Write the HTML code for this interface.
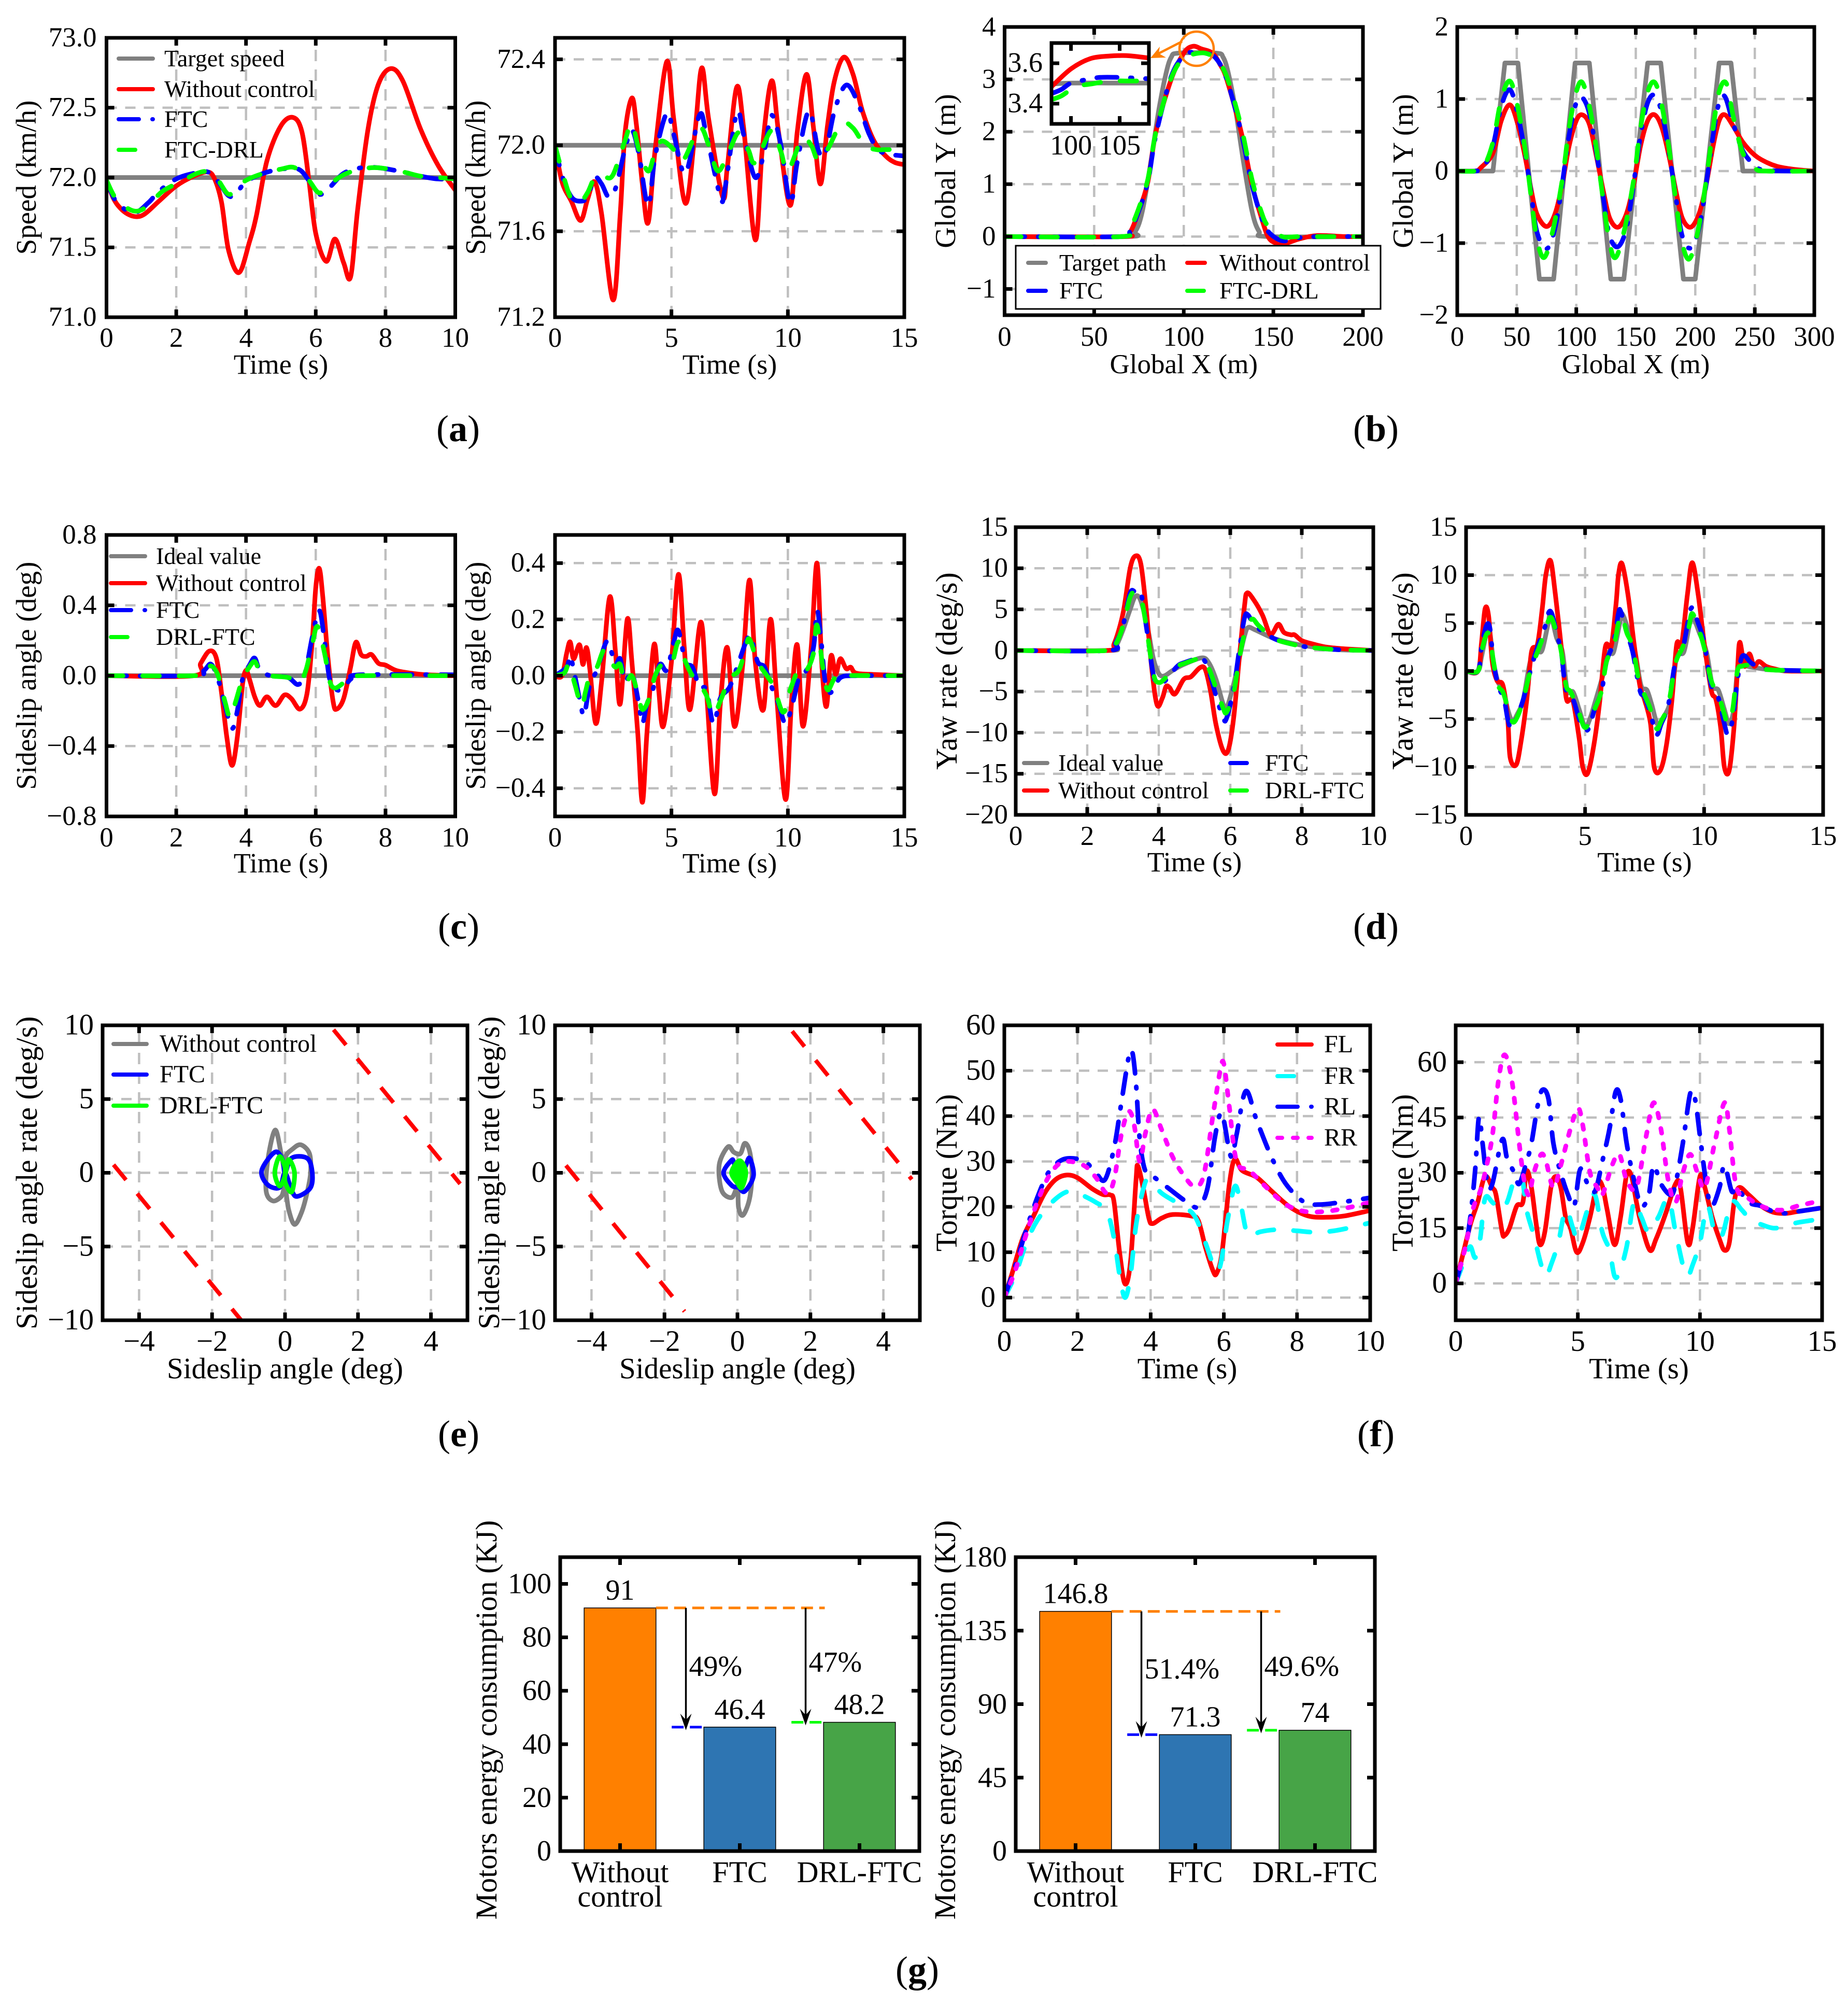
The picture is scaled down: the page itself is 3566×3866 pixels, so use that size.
<!DOCTYPE html>
<html lang="en">
<head>
<meta charset="utf-8">
<title>Vehicle control comparison charts</title>
<style>
html,body{margin:0;padding:0;background:#fff;}
svg{display:block;}
text{font-family:"Liberation Serif","Noto Serif CJK SC",serif;fill:#000;}
</style>
</head>
<body>
<svg id="figure" xmlns="http://www.w3.org/2000/svg" width="3566" height="3866" viewBox="0 0 3566 3866">
<rect x="0" y="0" width="3566" height="3866" fill="#fff"/>
<text x="884" y="851" text-anchor="middle" font-size="72">(<tspan font-weight="bold">a</tspan>)</text>
<text x="2655" y="851" text-anchor="middle" font-size="72">(<tspan font-weight="bold">b</tspan>)</text>
<text x="885" y="1811" text-anchor="middle" font-size="72">(<tspan font-weight="bold">c</tspan>)</text>
<text x="2655" y="1811" text-anchor="middle" font-size="72">(<tspan font-weight="bold">d</tspan>)</text>
<text x="885" y="2790" text-anchor="middle" font-size="72">(<tspan font-weight="bold">e</tspan>)</text>
<text x="2655" y="2790" text-anchor="middle" font-size="72">(<tspan font-weight="bold">f</tspan>)</text>
<text x="1770" y="3824" text-anchor="middle" font-size="72">(<tspan font-weight="bold">g</tspan>)</text>
</svg>
<script>
// ---- data: flat lists of x,y pairs ----
const a1Gray=[0,72,10,72];
const a1Red=[0,71.98,.2,71.85,.4,71.78,.6,71.74,.85,71.72,1.1,71.74,1.5,71.83,2,71.94,2.5,72.01,2.9,72.04,3.1,71.99,3.3,71.82,3.5,71.48,3.8,71.32,4.1,71.54,4.3,71.73,4.6,72.12,5,72.37,5.35,72.43,5.6,72.33,5.8,71.99,6,71.6,6.3,71.4,6.55,71.56,6.8,71.39,7,71.29,7.2,71.77,7.5,72.35,7.8,72.67,8.15,72.78,8.5,72.69,9,72.35,9.5,72.09,10,71.91];
const a1Blue=[0,71.98,.3,71.82,.8,71.75,1.2,71.82,1.5,71.9,2,71.99,2.5,72.03,2.9,72.04,3.2,71.97,3.5,71.87,3.7,71.88,4,71.97,4.5,72.03,5,72.06,5.5,72.06,5.8,71.98,6.1,71.88,6.4,71.93,6.8,72.03,7.3,72.07,7.8,72.07,8.5,72.04,9,72.01,9.5,71.99,10,71.99];
const a1Green=[0,71.98,.3,71.84,.8,71.76,1.2,71.8,1.6,71.9,2.2,71.98,2.6,72.03,2.9,72.04,3.2,71.98,3.5,71.88,3.8,71.93,4,71.98,4.5,72.03,5,72.06,5.4,72.07,5.8,71.98,6.1,71.89,6.4,71.95,6.8,72.02,7.3,72.06,7.8,72.07,8.5,72.04,9,72.01,9.5,72,10,71.99];
const a2Gray=[0,72,15,72];
const a2Red=[0,72,.3,71.83,.7,71.74,1.1,71.65,1.4,71.75,1.7,71.83,2,71.68,2.5,71.28,2.8,71.68,3,72.05,3.3,72.22,3.5,72.09,3.75,71.82,4,71.64,4.3,71.98,4.8,72.39,5.1,72.12,5.6,71.73,6,72.05,6.3,72.36,6.6,72.12,7.2,71.76,7.4,71.9,7.8,72.27,8.1,72.08,8.6,71.56,8.9,71.98,9.3,72.3,9.6,72.06,10.1,71.72,10.4,72.06,10.8,72.33,11.1,72.08,11.4,71.82,11.7,72.09,12,72.3,12.4,72.41,12.8,72.33,13.2,72.16,13.7,72.02,14.2,71.95,14.6,71.92,15,71.91];
const a2Blue=[0,72,.3,71.86,.7,71.76,1.1,71.74,1.4,71.76,1.7,71.85,2,71.82,2.3,71.76,2.6,71.8,3,71.98,3.3,72.07,3.6,71.96,4,71.72,4.3,71.95,4.8,72.15,5.1,72.05,5.6,71.87,6.2,72.14,6.5,72.05,7.1,71.76,7.3,71.8,7.8,72.15,8.1,72.05,8.6,71.85,9,71.98,9.3,72.14,9.7,72,10.1,71.73,10.4,71.92,10.9,72.16,11.3,71.98,11.6,71.96,12,72.16,12.5,72.28,13,72.2,13.5,72.05,14,71.97,15,71.95];
const a2Green=[0,72,.3,71.88,.7,71.75,1.1,71.74,1.4,71.78,1.7,71.85,2,71.86,2.4,71.85,2.7,71.92,3,72.02,3.3,72.1,3.6,71.98,4,71.88,4.3,71.97,4.6,72.02,5.1,71.98,5.5,71.93,6.2,72.08,6.6,72,7,71.88,7.5,71.98,7.9,72.06,8.3,71.98,8.6,71.92,9.3,72.07,9.7,71.97,10,71.88,10.6,72.03,11,72,11.3,71.93,11.7,71.98,12.3,72.1,12.8,72.08,13.3,72,13.8,71.98,14.2,71.98,15,71.98];

const b1Gray=[0,0,68,0,73,.1,77,.5,82,1.5,86,2.4,90,3.1,93,3.42,97,3.5,118,3.5,122,3.42,125,3.1,129,2.4,133,1.5,138,.5,142,.1,147,0,200,0];
const b1Red=[0,0,65,0,70,.08,75,.5,80,1.05,84.5,2,93,3,100,3.5,105,3.63,110,3.58,116,3.5,120,3.3,124,3,132,2,138,1,143,.4,147,0,151,-.12,155,-.15,165,-.04,175,.02,190,0,200,0];
const b1Blue=[0,0,65,0,70,.1,75,.5,80,1.05,84.5,1.95,93,3.05,100,3.45,105,3.52,112,3.5,118,3.4,124,3,132,2,138,1,143,.4,147,.1,155,-.08,165,-.02,175,0,200,0];
const b1Green=[0,0,65,0,70,.15,75,.55,80,1.1,84.5,2,93,3.02,100,3.42,105,3.48,112,3.5,118,3.38,124,3.05,132,2.1,138,1.1,143,.5,147,.2,155,0,165,0,200,0];
const insetGray=[98,3.497,100,3.502,104,3.502,108,3.502];
const insetRed=[98,3.484,100,3.572,102,3.623,104,3.636,105,3.638,106,3.637,108,3.626];
const insetBlue=[98,3.45,99,3.47,100,3.502,101.5,3.518,103,3.53,105,3.53,106,3.528,108,3.523];
const insetGreen=[98,3.42,99,3.438,100.5,3.484,102,3.497,104,3.512,106,3.512,108,3.512];
const b2Gray=[0,0,30,0,40,1.5,51,1.5,69,-1.5,81,-1.5,99,1.5,111,1.5,129,-1.5,140,-1.5,160,1.5,171,1.5,190,-1.5,200,-1.5,220,1.5,230,1.5,240,0,300,0];
const b2Red=[0,0,15,0,20,.05,30,.25,37,.7,44,.92,50,.7,57,.2,62,-.25,67,-.6,75,-.77,82,-.6,88,-.2,94,.35,100,.7,105,.78,111,.65,117,.2,123,-.3,128,-.65,135,-.78,142,-.6,148,-.2,154,.35,160,.7,166,.78,172,.6,178,.2,184,-.3,189,-.65,196,-.78,203,-.6,209,-.2,215,.35,220,.7,225,.78,232,.62,240,.4,250,.22,260,.12,270,.06,285,.02,300,0];
const b2Blue=[0,0,15,0,22,.05,30,.35,37,.9,44,1.13,50,.85,57,.25,62,-.3,67,-.85,75,-1.08,82,-.8,88,-.2,94,.5,100,.95,105,1.02,111,.8,117,.25,123,-.4,128,-.9,135,-1.05,142,-.8,148,-.2,154,.5,160,.95,166,1.05,172,.8,178,.25,184,-.4,189,-.9,196,-1.07,203,-.8,209,-.2,215,.5,220,.95,225,1.03,232,.65,240,.28,250,.08,260,.01,300,0];
const b2Green=[0,0,15,0,22,.05,30,.4,37,1,44,1.25,50,.95,57,.3,62,-.35,67,-.95,73,-1.2,80,-.85,88,-.15,94,.6,100,1.1,105,1.23,111,.9,117,.3,123,-.45,128,-1,133,-1.2,140,-.85,148,-.15,154,.6,160,1.1,166,1.23,172,.9,178,.3,184,-.45,189,-1,195,-1.22,202,-.85,209,-.15,215,.6,220,1.1,226,1.22,232,.75,240,.25,250,.04,260,0,300,0];

const c1Gray=[0,0,10,0];
const c1Red=[0,0,2.5,0,2.7,.07,2.95,.14,3.15,.1,3.3,-.1,3.45,-.35,3.6,-.51,3.75,-.35,3.9,-.05,4,.03,4.1,-.02,4.25,-.12,4.4,-.17,4.6,-.12,4.85,-.17,5.1,-.11,5.3,-.13,5.55,-.19,5.75,-.1,5.9,.2,6,.5,6.1,.61,6.2,.45,6.35,.1,6.5,-.15,6.6,-.19,6.8,-.13,7,.05,7.15,.19,7.3,.12,7.45,.11,7.6,.12,7.8,.07,8,.06,8.3,.03,8.7,.015,9.2,.005,10,0];
const c1Blue=[0,0,2.5,0,2.8,.03,3,.065,3.2,-.02,3.4,-.17,3.6,-.3,3.75,-.2,3.9,-.02,4.1,.06,4.25,.1,4.4,.03,4.7,0,5.2,-.01,5.5,-.05,5.7,.02,5.9,.22,6.1,.37,6.25,.2,6.4,-.02,6.6,-.08,6.8,-.07,7,-.02,7.3,.005,10,.005];
const c1Green=[0,0,2.5,0,2.8,.02,3,.055,3.2,0,3.4,-.15,3.55,-.24,3.7,-.15,3.9,-.02,4.1,.05,4.25,.08,4.4,.03,4.7,0,5.2,-.01,5.5,-.04,5.7,.02,5.9,.18,6.05,.28,6.25,.13,6.4,-.03,6.55,-.07,6.8,-.04,7,-.01,7.3,0,10,0];
const c2Gray=[0,0,15,0];
const c2Red=[0,0,.3,0,.5,.08,.65,.12,.8,.06,1.05,.11,1.2,.04,1.35,.1,1.5,.02,1.75,-.17,2,-.02,2.35,.28,2.6,.08,2.8,-.1,3.1,.2,3.3,.05,3.55,-.2,3.75,-.45,3.95,-.2,4.25,.11,4.45,-.05,4.65,-.18,5,.05,5.3,.36,5.55,.1,5.8,-.12,6.25,.19,6.5,-.05,6.85,-.42,7.1,-.1,7.4,.1,7.7,-.18,8.05,.03,8.35,.34,8.6,.05,8.95,-.12,9.25,.2,9.5,-.05,9.9,-.44,10.15,-.1,10.4,.11,10.65,-.18,11,.1,11.25,.4,11.45,.05,11.65,-.11,11.85,.07,12.05,.005,12.25,.06,12.5,.025,12.7,.03,12.9,.01,13.5,.005,15,0];
const c2Blue=[0,0,.5,.03,.65,.07,.85,0,1.1,-.1,1.25,-.14,1.5,-.03,1.8,.02,2.2,.12,2.4,.09,2.6,.04,2.8,.06,3,-.02,3.3,.01,3.6,-.1,3.75,-.17,3.95,-.1,4.2,-.05,4.5,.04,4.8,.02,5.1,.12,5.3,.16,5.6,.05,5.9,.03,6.2,-.04,6.5,-.05,6.8,-.17,7.1,-.08,7.5,-.04,7.9,.05,8.2,.12,8.4,.14,8.7,.05,9,.03,9.3,-.04,9.6,-.1,9.9,-.17,10.2,-.1,10.5,0,10.8,.02,11.1,.1,11.25,.23,11.4,.15,11.6,-.02,11.8,-.06,12,-.04,12.3,-.005,13,0,15,0];
const c2Green=[0,0,.4,.01,.6,.04,.85,-.03,1.15,-.11,1.3,-.06,1.5,0,1.8,.03,2.1,.09,2.4,.05,2.6,.03,2.8,.04,3,-.03,3.3,0,3.6,-.08,3.75,-.12,4,-.09,4.3,0,4.6,.04,5,.04,5.3,.12,5.6,.05,5.9,0,6.2,-.03,6.5,-.07,6.8,-.14,7.1,-.09,7.5,-.01,7.9,.02,8.2,.1,8.35,.13,8.7,.05,9.1,0,9.4,-.04,9.8,-.13,10.1,-.05,10.5,.03,10.8,.02,11.1,.08,11.25,.18,11.5,.03,11.7,-.05,12,-.01,12.3,0,15,0];

const d1Gray=[0,0,2.6,0,2.8,.5,3,2.5,3.2,5,3.35,6.6,3.5,6,3.7,2.5,3.85,-1,4,-2.8,4.15,-3.1,4.4,-2.4,4.7,-1.7,5.2,-.9,5.4,-1.5,5.6,-3.5,5.8,-6.5,5.9,-7,6.1,-4,6.25,-1,6.4,1.8,6.5,2.8,6.7,2.5,7.2,1.5,7.7,.9,8.2,.5,9,.1,10,0];
const d1Red=[0,0,2.55,0,2.75,.8,3,4.5,3.2,10,3.35,11.5,3.5,10.5,3.65,5,3.8,-2,3.95,-6.6,4.1,-5.8,4.2,-4.4,4.3,-4.5,4.45,-5.3,4.7,-3.5,4.9,-3.2,5.15,-2.1,5.3,-2.3,5.45,-5,5.6,-9,5.8,-12.2,5.95,-12,6.1,-8,6.25,-1,6.4,5.5,6.47,7,6.65,6.2,6.9,4.3,7.1,2,7.2,2.2,7.35,3.2,7.5,2.2,7.7,1.9,7.8,1.9,8,1.2,8.3,.8,8.7,.4,9.2,.2,10,0];
const d1Blue=[0,0,2.6,0,2.8,1,3,3,3.2,7,3.35,7.1,3.5,7,3.65,3,3.85,-3,4,-4.1,4.2,-3.6,4.5,-2,4.7,-1.5,5.2,-1,5.4,-2.5,5.6,-5.5,5.8,-8.2,5.9,-8.2,6.1,-4.5,6.25,0,6.4,4,6.5,4.3,6.7,3,7.2,1.5,7.7,.8,8.2,.4,9,.1,10,0];
const d1Green=[0,0,2.6,0,2.8,.8,3,3,3.2,6.5,3.35,7.1,3.5,6.5,3.65,3,3.85,-2.8,4,-3.9,4.2,-3.3,4.5,-2,4.7,-1.6,5.2,-1,5.4,-2.2,5.6,-4.6,5.8,-7,5.9,-7.5,6.1,-5,6.25,-1,6.4,2,6.6,3.8,6.8,3,7.2,1.5,7.7,.8,8.2,.4,9,.1,10,0];
const d2Gray=[0,0,.5,0,.65,1.5,.85,3.8,1,4,1.15,1,1.35,-1.2,1.55,-1.7,1.75,-4,1.95,-5.2,2.15,-4.5,2.4,-3,2.7,1,3,2,3.2,2.2,3.45,5,3.55,6,3.8,3.5,4.05,2,4.25,-2,4.5,-2.2,4.75,-4,5,-5.8,5.2,-5,5.45,-3,5.8,0,6,2,6.2,2,6.5,5.5,6.6,5.8,6.85,4,7.1,2,7.35,-1.5,7.6,-2,7.8,-3.5,8.05,-5.6,8.3,-4.8,8.6,-3,8.85,1.5,9.15,2,9.4,5,9.55,5.5,9.8,4,10.1,2,10.35,-1.5,10.6,-2,10.85,-4,11.05,-5.5,11.25,-4,11.4,0,11.6,.6,12,.4,13,.1,15,0];
const d2Red=[0,0,.5,0,.65,3,.8,6.5,.95,5.7,1.1,1,1.3,-1,1.55,-1.5,1.75,-5,1.85,-9,2.1,-9.8,2.3,-7.5,2.55,-3,2.75,2,3,2.8,3.2,6.5,3.35,10,3.55,11.5,3.75,8,4,2.5,4.2,-2.7,4.35,-3,4.5,-3.2,4.75,-7,4.9,-10,5.1,-10.7,5.35,-8,5.6,-3.5,5.85,2.5,6.1,2.6,6.3,7,6.4,10,6.55,11.2,6.8,8,7.05,3,7.3,-1.5,7.5,-3,7.75,-5.5,7.9,-10,8.15,-10.4,8.4,-8,8.65,-3,8.85,2.8,9.05,2.7,9.3,8,9.5,11.3,9.75,8,10,3,10.3,-2,10.5,-3,10.7,-6,10.85,-10,11.05,-10.4,11.25,-6,11.4,0,11.5,3,11.7,.5,11.9,1.8,12.1,.5,12.3,1,12.6,.5,13,.2,13.5,0,15,0];
const d2Blue=[0,0,.5,0,.65,2.5,.85,4.7,1,4.5,1.15,1,1.35,-1.5,1.6,-3,1.75,-5,1.9,-6,2.1,-5,2.4,-3,2.7,0,3,2.5,3.3,4.5,3.45,6,3.6,6,3.85,3.5,4,2,4.2,-2,4.5,-3,4.75,-5,4.95,-6,5.15,-6,5.4,-4,5.7,-2,5.9,1,6.2,3,6.4,6,6.5,6.2,6.75,4,7,2,7.3,-2,7.5,-2.7,7.75,-4.5,8,-6.6,8.2,-5.5,8.5,-3.5,8.8,1,9.1,2.3,9.35,5.5,9.5,6.6,9.75,5,10,3,10.3,-1.5,10.6,-2.8,10.85,-5.5,11,-6.6,11.2,-5,11.4,-1,11.55,1.2,11.7,1.6,12,.8,12.5,.3,13,.1,15,0];
const d2Green=[0,0,.5,0,.65,2,.85,3.8,1,3.6,1.15,1,1.35,-1.5,1.55,-2.2,1.75,-3.8,1.95,-5.3,2.15,-4.8,2.4,-3,2.7,0,3,2,3.3,4,3.45,5.2,3.6,5.5,3.85,3.5,4,2,4.2,-1.5,4.4,-2.2,4.7,-4,4.95,-5.8,5.15,-5.5,5.4,-4,5.7,-2,5.9,1,6.2,2.5,6.4,5,6.55,5.8,6.75,4,7,2.5,7.3,-1.5,7.5,-2.5,7.75,-4,8,-6,8.2,-5.2,8.5,-3.5,8.8,.8,9.1,2.5,9.35,4.5,9.5,6,9.75,4.5,10,2.5,10.3,-1,10.6,-2.5,10.85,-4.5,11,-5.5,11.2,-4,11.4,0,11.6,.5,11.9,.6,12.3,.3,13,.1,15,0];

const e1BoundaryLow=[-4.7,.55,-1.2,-10];
const e1BoundaryHigh=[1.33,9.7,4.8,-.75];
const e1Gray=[0,0,-.1,1.2,-.27,2.9,-.47,.9,-.52,-1.2,-.34,-1.9,-.1,-1.6,0,-1,.1,-2.5,.26,-3.5,.45,-2.7,.6,-1.4,.7,0,.67,1.3,.43,1.9,.2,1.6,.02,1.1];
const e1Blue=[-.28,1.4,-.64,.15,-.48,-.8,-.15,-1,0,0,.18,-1.2,.34,-1.6,.7,-1,.74,.15,.6,1,.18,1,0,0,-.07,.9];
const e1Green=[-.15,1.1,-.28,0,-.15,-.9,0,-.2,.1,.9,.26,0,.18,-1.3,0,-.6,0,.35];
const e2BoundaryLow=[-4.7,.5,-1.45,-9.4];
const e2BoundaryHigh=[1.5,9.6,4.78,-.45];
const e2Gray=[-.26,1.76,-.5,.54,-.43,-1.2,-.16,-1.68,0,-1,.03,-2.35,.15,-2.88,.33,-1.78,.4,0,.33,1.5,.2,2,.08,1.3,-.1,1.4];
const e2Blue=[-.16,.85,-.38,0,-.16,-.85,.03,-1,.2,-1.25,.44,-.2,.33,1,.2,.35,0,0,-.1,.7];
const e2Green=[0,.73,-.16,0,0,-.7,.12,-1,.23,0,.12,.73];

const f1FL=[0,0,.2,5,.5,13,.8,18,1.1,23,1.4,26,1.7,27,2,26.4,2.4,24,2.7,22.7,2.9,22.6,3,21,3.15,10,3.3,3,3.45,8,3.6,26,3.65,29,3.8,24,3.95,17.5,4.05,16.3,4.3,17.5,4.6,18.3,5.1,18,5.3,17,5.5,11,5.7,6,5.8,5.3,5.95,10,6.15,25,6.3,30.5,6.5,28,6.9,26.5,7.3,23.5,7.8,20,8.3,18,8.8,17.7,9.3,18,10,19.2];
const f1FR=[0,0,.3,5,.6,12,.9,17,1.3,21,1.7,23.3,2,23,2.5,21,2.8,19,3,13,3.15,5,3.3,0,3.45,5,3.6,16,3.8,24,3.95,26,4.3,23,4.8,20.5,5.2,18,5.5,12,5.75,6.5,5.9,7,6.1,17,6.3,24.5,6.45,21,6.6,15,6.7,13.5,7,14.5,7.5,15,8,14.7,8.5,14.4,9,14.7,9.5,15.5,10,16.5];
const f1RL=[0,0,.3,7,.6,15,.9,22,1.2,27.5,1.5,30,1.8,30.7,2.2,30,2.5,27.5,2.75,26,3,33,3.2,43,3.4,53,3.5,54,3.6,47,3.7,35,3.85,28,4.1,26.5,4.5,24,5,21,5.3,20,5.55,24,5.75,35,5.9,40.5,6,39,6.2,31,6.35,36,6.6,45.5,6.9,39,7.3,31,7.7,25,8.2,21,8.6,20.5,9.2,21,10,22];
const f1RR=[0,0,.3,6,.6,14,.9,21,1.2,26.5,1.5,29.5,1.8,30,2.2,29,2.5,26.5,2.8,23,3,26,3.2,36,3.4,41,3.55,38,3.7,30,3.85,36,4.05,41.5,4.3,37,4.6,31,4.9,27,5.2,24.5,5.45,27,5.7,40,5.9,50,6,51.5,6.15,42,6.35,30,6.7,28,7.2,24,7.7,20.5,8.2,19,8.8,19,9.5,20,10,21];
const f2FL=[0,0,.3,8,.6,16,.9,22,1.2,29,1.5,26,1.65,24,1.9,14,2,13,2.2,15,2.5,21,2.75,22,2.9,30.5,3.1,26,3.3,16,3.45,10.5,3.65,14,3.9,26,4.1,29,4.3,26,4.5,18,4.7,15,4.95,8.5,5.2,11,5.5,18,5.8,27,6,26.5,6.2,20,6.5,10.5,6.75,18,7,29.5,7.2,29,7.4,22,7.6,16,7.95,9,8.2,12,8.6,19,9,27,9.2,26,9.5,11,9.7,15,10,29,10.2,26,10.5,18,10.8,12,11,9,11.2,11,11.4,22,11.6,26,12,24,12.5,21,13,19.3,13.5,19,14,19.5,15,20.5];
const f2FR=[0,0,.4,7,.6,10,.8,7,1,12,1.2,23,1.5,22,1.8,20,2.1,22,2.4,28,2.7,29,2.9,20,3.2,13,3.5,5,3.7,2,3.9,5,4.2,11,4.5,20,4.8,15,5,12,5.4,20,5.7,24,6,14,6.3,9,6.5,2,6.7,3,7,10,7.3,22,7.6,18,7.9,14,8.3,18,8.7,23,9,14,9.3,5,9.5,2,9.7,5,10,11,10.3,21,10.6,14,10.9,13,11.3,22,11.7,20,12.1,17,12.5,16,13,15,13.5,15.5,14,16.5,15,17.5];
const f2RL=[0,0,.4,10,.6,18,.8,31,.95,45,1.1,38,1.3,27,1.5,27,1.9,39,2.1,34,2.4,30,2.6,27,2.9,33,3.1,38,3.35,48,3.55,52.5,3.8,50,4,38,4.3,30,4.6,24,4.85,21,5.1,31,5.4,27,5.7,25,6,33,6.3,42,6.55,52,6.75,50,7,38,7.3,28,7.6,21,7.9,24,8.1,32,8.4,27,8.8,24,9,27,9.3,38,9.6,51.5,9.8,50,10,40,10.3,25,10.5,21,10.8,26,11,32,11.3,25,11.5,26,12,22,12.5,21,13,19.5,13.5,19,14,19.5,15,20.5];
const f2RR=[0,0,.4,10,.7,20,1,25,1.2,30,1.5,40,1.75,55,2,62,2.3,55,2.6,38,2.8,28,3,24,3.2,30,3.5,35,3.7,33,4,26,4.3,32,4.7,42,5,47.5,5.2,43,5.5,30,5.8,26,6,24,6.4,32,6.7,35,7,28,7.4,26,7.8,40,8.1,49,8.4,42,8.7,28,9,22,9.3,30,9.6,35,9.9,30,10.2,26,10.6,38,11,49,11.2,42,11.5,26,12,23,12.5,21,13,20,13.5,20,14,21,15,22.5];

const g1Categories=[["Without","control"],["FTC"],["DRL-FTC"]];
const g1Values=[91,46.4,48.2];
const g1ValueLabels=["91","46.4","48.2"];
const g1Savings=["49%","47%"];
const g2Categories=[["Without","control"],["FTC"],["DRL-FTC"]];
const g2Values=[146.8,71.3,74];
const g2ValueLabels=["146.8","71.3","74"];
const g2Savings=["51.4%","49.6%"];

// ---- tick values ----
const aLeftX=[0,2,4,6,8,10], a1Y=[71,71.5,72,72.5,73];
const aRightX=[0,5,10,15], a2Y=[71.2,71.6,72,72.4];
const b1X=[0,50,100,150,200], b1Y=[-1,0,1,2,3,4];
const b2X=[0,50,100,150,200,250,300], b2Y=[-2,-1,0,1,2];
const insetX=[100,105], insetY=[3.4,3.6];
const c1Y=[-.8,-.4,0,.4,.8], c2Y=[-.4,-.2,0,.2,.4];
const d1Y=[-20,-15,-10,-5,0,5,10,15], d2Y=[-15,-10,-5,0,5,10,15];
const eX=[-4,-2,0,2,4], eY=[-10,-5,0,5,10];
const f1Y=[0,10,20,30,40,50,60], f2Y=[0,15,30,45,60];
const g1Y=[0,20,40,60,80,100], g2Y=[0,45,90,135,180];

// ---- rendering ----
const NS='http://www.w3.org/2000/svg';
const root=document.getElementById('figure');
const SERIES={
 gray:{c:'#808080'},red:{c:'#ff0000'},
 blue:{c:'#0000ff',d:'39 26 3 26'},green:{c:'#00ff00',d:'32 38'},
 solidBlue:{c:'#0000ff'},solidGreen:{c:'#00ff00'},
 cyan:{c:'#00ffff',d:'32 38'},magenta:{c:'#ff00ff',d:'9 21'},dashRL:{c:'#0000ff',d:'39 26 3 26'}
};
function mk(parent,tag,attrs,name){
 const el=document.createElementNS(NS,tag);
 for(const k in attrs){el.setAttribute(k,attrs[k]);}
 
 
 parent.appendChild(el);
 return el;
}
function txt(parent,str,attrs,name){
 const el=mk(parent,'text',attrs,name);
 el.textContent=str;
 return el;
}
function pairs(a){const o=[];for(let i=0;i+1<a.length;i+=2){o.push([a[i],a[i+1]]);}return o;}
function curve(p,closed,straight){
 const n=p.length;
 if(straight||n<3){return 'M'+p.map(q=>q[0].toFixed(1)+' '+q[1].toFixed(1)).join('L');}
 let d='M'+p[0][0].toFixed(1)+' '+p[0][1].toFixed(1);
 const last=closed?n:n-1;
 for(let i=0;i<last;i++){
  const p1=p[i],p2=p[(i+1)%n];
  const p0=closed?p[(i-1+n)%n]:p[Math.max(i-1,0)];
  const p3=closed?p[(i+2)%n]:p[Math.min(i+2,n-1)];
  const c1=[p1[0]+(p2[0]-p0[0])/6,p1[1]+(p2[1]-p0[1])/6];
  const c2=[p2[0]-(p3[0]-p1[0])/6,p2[1]-(p3[1]-p1[1])/6];
  d+='C'+c1[0].toFixed(1)+' '+c1[1].toFixed(1)+' '+c2[0].toFixed(1)+' '+c2[1].toFixed(1)+' '+p2[0].toFixed(1)+' '+p2[1].toFixed(1);
 }
 return d+(closed?'Z':'');
}
function fmt(v,dec){return (dec?Math.abs(v).toFixed(dec):String(Math.abs(v))).replace(/^/,v<0?'\u2212':'');}
function axes(cfg){
 const [l,t,r,b]=cfg.frame;
 const [x0,x1]=cfg.xDomain,[y0,y1]=cfg.yDomain;
 return {sx:v=>l+(v-x0)/(x1-x0)*(r-l),sy:v=>b-(v-y0)/(y1-y0)*(b-t)};
}
function drawFrameTicks(g,cfg,ax,xTicks,yTicks){
 const [l,t,r,b]=cfg.frame;
 const tl=12;
 mk(g,'rect',{x:l,y:t,width:r-l,height:b-t,fill:'none',stroke:'#000','stroke-width':7},cfg.id+'-frame');
 xTicks.forEach(v=>{
  const x=ax.sx(v);
  mk(g,'line',{x1:x,x2:x,y1:b,y2:b-tl-3,stroke:'#000','stroke-width':7},cfg.id+'-x-tick-bottom');
  mk(g,'line',{x1:x,x2:x,y1:t,y2:t+tl+3,stroke:'#000','stroke-width':7},cfg.id+'-x-tick-top');
 });
 yTicks.forEach(v=>{
  const y=ax.sy(v);
  mk(g,'line',{x1:l,x2:l+tl+3,y1:y,y2:y,stroke:'#000','stroke-width':7},cfg.id+'-y-tick-left');
  mk(g,'line',{x1:r,x2:r-tl-3,y1:y,y2:y,stroke:'#000','stroke-width':7},cfg.id+'-y-tick-right');
 });
}
function drawTickLabels(g,cfg,ax,xTicks,yTicks){
 const [l,t,r,b]=cfg.frame;
 const fs=cfg.tickSize||53;
 xTicks.forEach(v=>{
  txt(g,fmt(v,cfg.xDec||0),{x:ax.sx(v),y:b+cfg.xTickDy,'text-anchor':'middle','font-size':fs},cfg.id+'-x-tick-label');
 });
 yTicks.forEach(v=>{
  txt(g,fmt(v,cfg.yDec||0),{x:l-(cfg.yTickGap||17),y:ax.sy(v)+fs*.31,'text-anchor':'end','font-size':fs},cfg.id+'-y-tick-label');
 });
}
function drawLegend(g,cfg){
 (cfg.legend||[]).forEach(e=>{
  const s=SERIES[e.s];
  const a={x1:e.x1+4,x2:e.x2-4,y1:e.y,y2:e.y,stroke:s.c,'stroke-width':8,'stroke-linecap':'round',fill:'none'};
  if(s.d){a['stroke-dasharray']=s.d;}
  mk(g,'line',a,cfg.id+'-legend-line');
  txt(g,e.t,{x:e.tx,y:e.y+15,'font-size':cfg.legendSize||46},cfg.id+'-legend-label');
 });
}
function drawPanel(cfg){
 const [l,t,r,b]=cfg.frame;
 const g=mk(root,'g',{},cfg.id+'-panel');
 const ax=axes(cfg);
 if(cfg.background){mk(g,'rect',{x:l,y:t,width:r-l,height:b-t,fill:'#fff'},cfg.id+'-background');}
 const clipId='clip-'+cfg.id;
 const clip=mk(g,'clipPath',{id:clipId},cfg.id+'-clip');
 mk(clip,'rect',{x:l,y:t,width:r-l,height:b-t},cfg.id+'-clip-rect');
 if(!cfg.noGrid){
  cfg.xTicks.forEach(v=>{
   if(v===cfg.xDomain[0]||v===cfg.xDomain[1]){return;}
   const x=ax.sx(v);
   mk(g,'line',{x1:x,x2:x,y1:b,y2:t,stroke:'#bfbfbf','stroke-width':4.5,'stroke-dasharray':'22 16'},cfg.id+'-x-grid');
  });
  cfg.yTicks.forEach(v=>{
   if(v===cfg.yDomain[0]||v===cfg.yDomain[1]){return;}
   const y=ax.sy(v);
   mk(g,'line',{x1:l,x2:r,y1:y,y2:y,stroke:'#bfbfbf','stroke-width':4.5,'stroke-dasharray':'20 16'},cfg.id+'-y-grid');
  });
 }
 const pg=mk(g,'g',{'clip-path':'url(#'+clipId+')'},cfg.id+'-series-group');
 (cfg.boundaries||[]).forEach(arr=>{
  const p=pairs(arr).map(q=>[ax.sx(q[0]),ax.sy(q[1])]);
  mk(pg,'path',{d:curve(p),fill:'none',stroke:'#ff0000','stroke-width':8,'stroke-dasharray':'38 34'},cfg.id+'-stability-boundary');
 });
 cfg.series.forEach(s=>{
  const st=SERIES[s.s];
  const p=pairs(s.data).map(q=>[ax.sx(q[0]),ax.sy(q[1])]);
  const a={d:curve(p,s.closed,s.straight),fill:s.fill||'none',stroke:st.c,'stroke-width':s.w||9,'stroke-linecap':'round','stroke-linejoin':'round'};
  if(st.d){a['stroke-dasharray']=st.d;}
  mk(pg,'path',a,cfg.id+'-'+s.n+'-line');
 });
 drawFrameTicks(g,cfg,ax,cfg.xTicks,cfg.yTicks);
 if(!cfg.noLabels){drawTickLabels(g,cfg,ax,cfg.xTicks,cfg.yTicks);}
 if(cfg.xLabel){txt(g,cfg.xLabel,{x:(l+r)/2,y:cfg.xLabelY,'text-anchor':'middle','font-size':cfg.labelSize||54},cfg.id+'-x-axis-title');}
 if(cfg.yLabel){
  const cy=cfg.yLabelCy||((t+b)/2);
  txt(g,cfg.yLabel,{x:cfg.yLabelX,y:cy,'text-anchor':'middle','font-size':cfg.yLabelSize||cfg.labelSize||54,transform:'rotate(-90 '+cfg.yLabelX+' '+cy+')'},cfg.id+'-y-axis-title');
 }
 return g;
}
function four(gray,red,blue,green){
 return [{n:'reference',s:'gray',data:gray},{n:'without-control',s:'red',data:red},{n:'ftc',s:'blue',data:blue},{n:'drl-ftc',s:'green',data:green}];
}

drawPanel({id:'speed-left',frame:[205.5,73,878.5,612],xDomain:[0,10],yDomain:[71,73],xTicks:aLeftX,yTicks:a1Y,yDec:1,yTickGap:19,xTickDy:57,xLabel:'Time (s)',xLabelY:721,yLabel:'Speed (km/h)',yLabelX:69,yLabelSize:55,
 series:four(a1Gray,a1Red,a1Blue,a1Green)});
drawPanel({id:'speed-right',frame:[1071,73,1745,612],xDomain:[0,15],yDomain:[71.2,72.5],xTicks:aRightX,yTicks:a2Y,yDec:1,yTickGap:19,xTickDy:57,xLabel:'Time (s)',xLabelY:721,yLabel:'Speed (km/h)',yLabelX:936,yLabelSize:55,
 series:four(a2Gray,a2Red,a2Blue,a2Green)});

drawPanel({id:'path-left',frame:[1938.5,52,2630,608],xDomain:[0,200],yDomain:[-1.5,4],xTicks:b1X,yTicks:b1Y,xTickDy:59,labelSize:53,xLabel:'Global X (m)',xLabelY:720,yLabel:'Global Y (m)',yLabelX:1843,yLabelSize:56,
 series:four(b1Gray,b1Red,b1Blue,b1Green)});
drawPanel({id:'path-right',frame:[2812,52,3501,608],xDomain:[0,300],yDomain:[-2,2],xTicks:b2X,yTicks:b2Y,xTickDy:59,labelSize:53,xLabel:'Global X (m)',xLabelY:720,yLabel:'Global Y (m)',yLabelX:2726,yLabelSize:56,
 series:[{n:'reference',s:'gray',data:b2Gray,straight:true},{n:'without-control',s:'red',data:b2Red},{n:'ftc',s:'blue',data:b2Blue},{n:'drl-ftc',s:'green',data:b2Green}]});
// inset of the left path panel
(function(){
 const cfg={id:'path-inset',frame:[2029,83,2217,239],xDomain:[98,108],yDomain:[3.3,3.7],xTicks:insetX,yTicks:insetY,yDec:1,noGrid:true,background:true,xTickDy:59,yTickGap:17,tickSize:54,
  series:four(insetGray,insetRed,insetBlue,insetGreen)};
 drawPanel(cfg);
 const a=mk(root,'g',{},'zoom-annotation');
 mk(a,'ellipse',{cx:2309,cy:94,rx:33,ry:33,fill:'none',stroke:'#ff8000','stroke-width':4.5},'zoom-circle');
 mk(a,'line',{x1:2281,y1:80,x2:2236,y2:103,stroke:'#ff8000','stroke-width':4.5},'zoom-arrow-shaft');
 mk(a,'path',{d:'M2220 112L2238 90L2236 103L2250 111Z',fill:'#ff8000'},'zoom-arrow-head');
})();
// path legend box
(function(){
 const g=mk(root,'g',{},'path-legend');
 mk(g,'rect',{x:1960,y:474,width:704,height:122,fill:'#fff',stroke:'#000','stroke-width':3},'legend-box');
 drawLegend(g,{id:'path',legend:[{s:'gray',t:'Target path',x1:1980,x2:2022,y:507,tx:2044},{s:'red',t:'Without control',x1:2287,x2:2329,y:507,tx:2353},{s:'blue',t:'FTC',x1:1980,x2:2022,y:561,tx:2044},{s:'green',t:'FTC-DRL',x1:2287,x2:2329,y:561,tx:2353}]});
})();

drawPanel({id:'sideslip-left',frame:[205.5,1032,878.5,1575],xDomain:[0,10],yDomain:[-.8,.8],xTicks:aLeftX,yTicks:c1Y,yDec:1,yTickGap:19,xTickDy:58,xLabel:'Time (s)',xLabelY:1683,yLabel:'Sideslip angle (deg)',yLabelX:69,yLabelSize:55,
 series:four(c1Gray,c1Red,c1Blue,c1Green)});
drawPanel({id:'sideslip-right',frame:[1071,1032,1745,1575],xDomain:[0,15],yDomain:[-.5,.5],xTicks:aRightX,yTicks:c2Y,yDec:1,yTickGap:19,xTickDy:58,xLabel:'Time (s)',xLabelY:1683,yLabel:'Sideslip angle (deg)',yLabelX:936,yLabelSize:55,
 series:four(c2Gray,c2Red,c2Blue,c2Green)});

drawPanel({id:'yaw-left',frame:[1960,1017,2650,1572],xDomain:[0,10],yDomain:[-20,15],xTicks:aLeftX,yTicks:d1Y,xTickDy:58,yTickGap:15,xLabel:'Time (s)',xLabelY:1681,yLabel:'Yaw rate (deg/s)',yLabelX:1846,yLabelSize:58,
 series:four(d1Gray,d1Red,d1Blue,d1Green)});
drawPanel({id:'yaw-right',frame:[2829,1017,3518,1572],xDomain:[0,15],yDomain:[-15,15],xTicks:aRightX,yTicks:d2Y,xTickDy:58,xLabel:'Time (s)',xLabelY:1681,yLabel:'Yaw rate (deg/s)',yLabelX:2726,yLabelSize:58,
 series:four(d2Gray,d2Red,d2Blue,d2Green)});

drawPanel({id:'phase-left',frame:[198,1978,902,2547],xDomain:[-5,5],yDomain:[-10,10],xTicks:eX,yTicks:eY,xTickDy:59,tickSize:57,labelSize:57,xLabel:'Sideslip angle (deg)',xLabelY:2659,yLabel:'Sideslip angle rate (deg/s)',yLabelX:71,yLabelSize:58,
 boundaries:[e1BoundaryLow,e1BoundaryHigh],
 series:[{n:'without-control',s:'gray',data:e1Gray,closed:true},{n:'ftc',s:'solidBlue',data:e1Blue,closed:true},{n:'drl-ftc',s:'solidGreen',data:e1Green,closed:true}]});
drawPanel({id:'phase-right',frame:[1071,1978,1775,2547],xDomain:[-5,5],yDomain:[-10,10],xTicks:eX,yTicks:eY,xTickDy:59,tickSize:57,labelSize:57,xLabel:'Sideslip angle (deg)',xLabelY:2659,yLabel:'Sideslip angle rate (deg/s)',yLabelX:963,yLabelSize:58,
 boundaries:[e2BoundaryLow,e2BoundaryHigh],
 series:[{n:'without-control',s:'gray',data:e2Gray,closed:true},{n:'ftc',s:'solidBlue',data:e2Blue,closed:true},{n:'drl-ftc',s:'solidGreen',data:e2Green,closed:true,fill:'#00ff00'}]});

drawPanel({id:'torque-left',frame:[1938,1978,2644,2547],xDomain:[0,10],yDomain:[-5,60],xTicks:aLeftX,yTicks:f1Y,xTickDy:59,tickSize:57,labelSize:57,xLabel:'Time (s)',xLabelY:2659,yLabel:'Torque (Nm)',yLabelX:1846,yLabelSize:58,
 series:[{n:'fl',s:'red',data:f1FL},{n:'fr',s:'cyan',data:f1FR},{n:'rl',s:'dashRL',data:f1RL},{n:'rr',s:'magenta',data:f1RR}]});
drawPanel({id:'torque-right',frame:[2809,1978,3516,2547],xDomain:[0,15],yDomain:[-10,70],xTicks:aRightX,yTicks:f2Y,xTickDy:59,tickSize:57,labelSize:57,xLabel:'Time (s)',xLabelY:2659,yLabel:'Torque (Nm)',yLabelX:2726,yLabelSize:58,
 series:[{n:'fl',s:'red',data:f2FL},{n:'fr',s:'cyan',data:f2FR},{n:'rl',s:'dashRL',data:f2RL},{n:'rr',s:'magenta',data:f2RR}]});

function drawEnergy(cfg){
 const [l,t,r,b]=cfg.frame;
 const g=mk(root,'g',{},cfg.id+'-panel');
 const ax=axes(cfg);
 const fills=['#ff8000','#2e75b2','#47a447'];
 const bw=.6;
 cfg.values.forEach((v,i)=>{
  const x=ax.sx(i-bw/2),w=ax.sx(i+bw/2)-x;
  mk(g,'rect',{x:x,y:ax.sy(v),width:w,height:ax.sy(0)-ax.sy(v),fill:fills[i],stroke:'#000','stroke-width':1.5},cfg.id+'-bar-'+i);
  txt(g,cfg.valueLabels[i],{x:ax.sx(i),y:ax.sy(v)-16,'text-anchor':'middle','font-size':56},cfg.id+'-bar-value-'+i);
  cfg.categories[i].forEach((line,j)=>{
   txt(g,line,{x:ax.sx(i),y:b+60+j*47,'text-anchor':'middle','font-size':58},cfg.id+'-category-label-'+i);
  });
 });
 const ref=cfg.values[0];
 mk(g,'line',{x1:ax.sx(bw/2),x2:ax.sx(1.71),y1:ax.sy(ref),y2:ax.sy(ref),stroke:'#ff8000','stroke-width':5,'stroke-dasharray':'23 12'},cfg.id+'-baseline-dash');
 const dashCol=['#0000ff','#00ff00'];
 [1,2].forEach((i,k)=>{
  const y=ax.sy(cfg.values[i]);
  const left=ax.sx(i-bw/2);
  mk(g,'line',{x1:left-62,x2:left,y1:y,y2:y,stroke:dashCol[k],'stroke-width':5,'stroke-dasharray':'23 12'},cfg.id+'-level-dash-'+i);
  const ax0=ax.sx(i-.45);
  const tip=y+6;
  mk(g,'line',{x1:ax0,x2:ax0,y1:ax.sy(ref),y2:tip-15,stroke:'#000','stroke-width':3.5},cfg.id+'-reduction-arrow-'+i);
  mk(g,'path',{d:'M'+ax0+' '+tip+'L'+(ax0-11)+' '+(tip-32)+'L'+ax0+' '+(tip-20)+'L'+(ax0+11)+' '+(tip-32)+'Z',fill:'#000'},cfg.id+'-reduction-arrowhead-'+i);
  txt(g,cfg.savings[k],{x:ax0+6,y:cfg.savingY[k],'font-size':56},cfg.id+'-saving-label-'+i);
 });
 drawFrameTicks(g,cfg,ax,[0,1,2],cfg.yTicks);
 cfg.yTicks.forEach(v=>{
  txt(g,fmt(v,0),{x:l-17,y:ax.sy(v)+18,'text-anchor':'end','font-size':56},cfg.id+'-y-tick-label');
 });
 const cy=3318;
 txt(g,cfg.yLabel,{x:cfg.yLabelX,y:cy,'text-anchor':'middle','font-size':58,transform:'rotate(-90 '+cfg.yLabelX+' '+cy+')'},cfg.id+'-y-axis-title');
}
drawEnergy({id:'energy-left',frame:[1081,3004,1774,3571],xDomain:[-.5,2.5],yDomain:[0,110],values:g1Values,valueLabels:g1ValueLabels,categories:g1Categories,savings:g1Savings,savingY:[3233,3225],yTicks:g1Y,yLabel:'Motors energy consumption (KJ)',yLabelX:958});
drawEnergy({id:'energy-right',frame:[1960,3004,2653,3571],xDomain:[-.5,2.5],yDomain:[0,180],values:g2Values,valueLabels:g2ValueLabels,categories:g2Categories,savings:g2Savings,savingY:[3238,3233],yTicks:g2Y,yLabel:'Motors energy consumption (KJ)',yLabelX:1843});

// legends last so they sit above the curves
[{id:'speed-left',legend:[{s:'gray',t:'Target speed',x1:225,x2:299,y:113,tx:317},{s:'red',t:'Without control',x1:225,x2:299,y:172,tx:317},{s:'blue',t:'FTC',x1:225,x2:299,y:230,tx:317},{s:'green',t:'FTC-DRL',x1:225,x2:299,y:289,tx:317}]},
 {id:'sideslip-left',legend:[{s:'gray',t:'Ideal value',x1:210,x2:284,y:1073,tx:301},{s:'red',t:'Without control',x1:210,x2:284,y:1125,tx:301},{s:'blue',t:'FTC',x1:210,x2:284,y:1177,tx:301},{s:'green',t:'DRL-FTC',x1:210,x2:284,y:1229,tx:301}]},
 {id:'yaw-left',legend:[{s:'gray',t:'Ideal value',x1:1972,x2:2025,y:1472,tx:2042},{s:'blue',t:'FTC',x1:2370,x2:2410,y:1472,tx:2441},{s:'red',t:'Without control',x1:1972,x2:2025,y:1525,tx:2042},{s:'green',t:'DRL-FTC',x1:2370,x2:2410,y:1525,tx:2441}]},
 {id:'phase-left',legendSize:48,legend:[{s:'gray',t:'Without control',x1:215,x2:287,y:2014,tx:308},{s:'solidBlue',t:'FTC',x1:215,x2:287,y:2073,tx:308},{s:'solidGreen',t:'DRL-FTC',x1:215,x2:287,y:2133,tx:308}]},
 {id:'torque-left',legendSize:48,legend:[{s:'red',t:'FL',x1:2461,x2:2535,y:2015,tx:2555},{s:'cyan',t:'FR',x1:2461,x2:2535,y:2076,tx:2555},{s:'dashRL',t:'RL',x1:2461,x2:2535,y:2135,tx:2555},{s:'magenta',t:'RR',x1:2461,x2:2535,y:2195,tx:2555}]}
].forEach(c=>{
 const g=mk(root,'g',{},c.id+'-legend');
 drawLegend(g,c);
});
</script>
</body>
</html>
